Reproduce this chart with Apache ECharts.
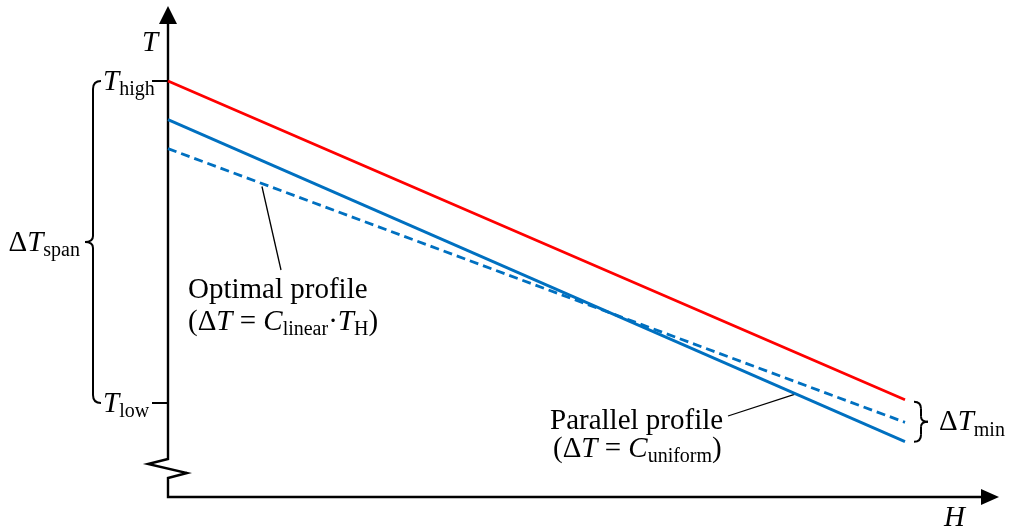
<!DOCTYPE html>
<html>
<head>
<meta charset="utf-8">
<script src="https://cdn.jsdelivr.net/npm/echarts@6/dist/echarts.min.js"></script>
<style>
html,body{margin:0;padding:0;background:#fff}
#main{width:1013px;height:528px}
</style>
</head>
<body>
<div id="main"></div>
<script>
// H positions where the profiles start and end
var hValues = [0, 100];
// temperature profiles (T, same H order)
var hotLine = [100, 1];          // red
var parallelLine = [88, -12];    // blue solid, parallel profile
var optimalLine = [79, -6];      // blue dashed, optimal profile
// marked levels on the T axis
var tickNames = ['high', 'low'];
var tickValues = [100, 0];

var serif = '"Liberation Serif", "DejaVu Serif", serif';
var RED = '#ff0000', BLUE = '#0070c0';
var FS = 29;

function pairs(ys) {
    return hValues.map(function (h, i) { return [h, ys[i]]; });
}

var chart = echarts.init(document.getElementById('main'));
var option = {
    animation: false,
    backgroundColor: '#fff',
    grid: {left: 168, top: 81, width: 737, height: 322},
    xAxis: {type: 'value', min: 0, max: 100, show: false},
    yAxis: {type: 'value', min: 0, max: 100, show: false},
    series: [{
        type: 'line', data: pairs(hotLine), symbol: 'none', clip: false,
        lineStyle: {color: RED, width: 2.8}
    }, {
        type: 'line', data: pairs(parallelLine), symbol: 'none', clip: false,
        lineStyle: {color: BLUE, width: 2.8}
    }, {
        type: 'line', data: pairs(optimalLine), symbol: 'none', clip: false,
        lineStyle: {color: BLUE, width: 2.8, type: [9, 5]}
    }]
};
chart.setOption(option);

function px(h, t) {
    return chart.convertToPixel({gridIndex: 0}, [h, t]);
}

// rich text styles
function rich(size) {
    var sub = Math.round(size * 0.68);
    return {
        n: {fontFamily: serif, fontSize: size, color: '#000'},
        i: {fontFamily: serif, fontSize: size, fontStyle: 'italic', color: '#000'},
        s: {fontFamily: serif, fontSize: sub, color: '#000', padding: [Math.round(size * 0.55), 0, 0, 0]}
    };
}
function label(x, y, text, size, align) {
    return {
        type: 'text', x: x, y: y, silent: true,
        style: {
            text: text, rich: rich(size), fontFamily: serif, fontSize: size,
            align: align || 'left', verticalAlign: 'middle', fill: '#000'
        }
    };
}
function seg(x1, y1, x2, y2, w) {
    return {type: 'line', silent: true, shape: {x1: x1, y1: y1, x2: x2, y2: y2}, style: {stroke: '#000', lineWidth: w || 2}};
}
function curve(x1, y1, cx, cy, x2, y2) {
    return {type: 'bezierCurve', silent: true, shape: {x1: x1, y1: y1, cpx1: cx, cpy1: cy, x2: x2, y2: y2}, style: {stroke: '#000', lineWidth: 2, fill: null}};
}
// vertical curly brace, tip pointing to dir (-1 left, +1 right)
function brace(x, y0, y1, dir, r, tip) {
    var m = (y0 + y1) / 2, out = [];
    out.push(curve(x - dir * r, y0, x, y0, x, y0 + r));
    out.push(seg(x, y0 + r, x, m - tip));
    out.push(curve(x, m - tip, x, m, x + dir * r, m));
    out.push(curve(x + dir * r, m, x, m, x, m + tip));
    out.push(seg(x, m + tip, x, y1 - r));
    out.push(curve(x, y1 - r, x, y1, x - dir * r, y1));
    return out;
}

var o = px(0, 0);
var ox = o[0], oy = 497;
var hi = px(0, tickValues[0]), lo = px(0, tickValues[1]);
var els = [];

// axes with break
els.push({
    type: 'polyline', silent: true,
    shape: {points: [[ox, 23], [ox, 459], [ox - 20, 464], [ox + 19, 473], [ox, 478], [ox, oy], [983, oy]]},
    style: {stroke: '#000', lineWidth: 2.4, fill: null, lineJoin: 'miter'}
});
els.push({type: 'polygon', silent: true, shape: {points: [[ox, 6], [ox - 9, 24], [ox + 9, 24]]}, style: {fill: '#000'}});
els.push({type: 'polygon', silent: true, shape: {points: [[999, oy], [981, oy - 8], [981, oy + 8]]}, style: {fill: '#000'}});

// ticks on T axis
[hi, lo].forEach(function (p) {
    els.push(seg(p[0] - 16, p[1], p[0], p[1], 2));
});
els.push(label(103, hi[1] + 1, '{i|T}{s|' + tickNames[0] + '}', FS));
els.push(label(103, lo[1] + 1, '{i|T}{s|' + tickNames[1] + '}', FS));
els.push(label(142, 43, '{i|T}', FS));
els.push(label(944, 518, '{i|H}', FS));

// left brace: delta T span
var bm = (hi[1] + lo[1]) / 2;
els = els.concat(brace(93, hi[1], lo[1], -1, 8, 6));
els.push(label(80, bm + 1, '{n|Δ}{i|T}{s|span}', FS, 'right'));

// right brace: delta T min
var e0 = px(hValues[1], hotLine[1]), e1 = px(hValues[1], parallelLine[1]);
var rm = (e0[1] + 2 + e1[1]) / 2;
els = els.concat(brace(e0[0] + 16, e0[1] + 2, e1[1], 1, 7, 5));
els.push(label(939, rm + 1, '{n|Δ}{i|T}{s|min}', FS));

// leader: optimal profile
var hOpt = 12.75;
var pOpt = px(hOpt, optimalLine[0] + (optimalLine[1] - optimalLine[0]) * hOpt / 100);
els.push(seg(pOpt[0], pOpt[1] + 3, 281, 270, 1.3));
els.push(label(188, 290, '{n|Optimal profile}', FS));
els.push(label(188, 322, '{n|(Δ}{i|T}{n| = }{i|C}{s|linear}{n|·}{i|T}{s|H}{n|)}', FS));

// leader: parallel profile
var hPar = 85;
var pPar = px(hPar, parallelLine[0] + (parallelLine[1] - parallelLine[0]) * hPar / 100);
els.push(seg(728, 416, pPar[0], pPar[1] + 1, 1.3));
els.push(label(550, 421, '{n|Parallel profile}', FS));
els.push(label(553, 449, '{n|(Δ}{i|T}{n| = }{i|C}{s|uniform}{n|)}', FS));

chart.setOption({graphic: {elements: els}});
</script>
</body>
</html>
